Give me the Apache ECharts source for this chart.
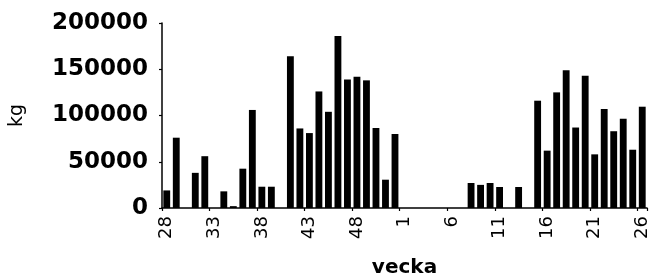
<!DOCTYPE html>
<html>
<head>
<meta charset="utf-8">
<script src="https://cdn.jsdelivr.net/npm/echarts@6/dist/echarts.min.js"></script>
<style>
    html, body { margin: 0; padding: 0; background: #fff; }
    #chart { width: 652px; height: 278px; }
</style>
</head>
<body>
<div id="chart"></div>
<script>
    // veckor 28-52, sedan 1-26
    const weeks = [];
    for (let w = 28; w <= 52; w++) weeks.push(String(w));
    for (let w = 1; w <= 26; w++) weeks.push(String(w));

    const kg = [
        19000, 76000, 0, 38000, 56000, 0, 18000, 2000, 42500, 106000,
        23000, 23000, 0, 164000, 86000, 81000, 126000, 104000, 186000, 139000,
        142000, 138000, 86500, 30600, 80000,
        0, 0, 0, 0, 0, 0, 0, 27000, 25000, 27000,
        22700, 0, 22700, 0, 116000, 62000, 125000, 149000, 87000, 143000,
        58000, 107000, 83000, 96500, 63000, 109500
    ];
    const yTicks = [0, 50000, 100000, 150000, 200000];

    const myChart = echarts.init(document.getElementById('chart'));
    const option = {
        animation: false,
        backgroundColor: '#fff',
        grid: {
            left: 162,
            right: 5,
            top: 23,
            bottom: 70,
            containLabel: false,
            outerBoundsMode: 'none'
        },
        xAxis: {
            type: 'category',
            data: weeks,
            name: 'vecka',
            nameLocation: 'middle',
            nameMoveOverlap: false,
            nameGap: 50,
            nameTextStyle: {
                fontFamily: 'DejaVu Sans',
                fontWeight: 'bold',
                fontSize: 20,
                color: '#000'
            },
            axisLine: { lineStyle: { color: '#000', width: 1.5 } },
            axisTick: {
                show: true,
                length: 3,
                lineStyle: { color: '#000', width: 1.2 }
            },
            axisLabel: {
                interval: 4,
                rotate: 90,
                margin: 8,
                fontFamily: 'DejaVu Sans',
                fontSize: 18,
                color: '#000'
            }
        },
        yAxis: {
            type: 'value',
            min: yTicks[0],
            max: yTicks[yTicks.length - 1],
            interval: 50000,
            name: 'kg',
            nameLocation: 'middle',
            nameRotate: 90,
            nameMoveOverlap: false,
            nameGap: 135,
            nameTextStyle: {
                fontFamily: 'DejaVu Sans',
                fontSize: 19,
                color: '#000'
            },
            splitLine: { show: false },
            axisLine: { show: true, lineStyle: { color: '#000', width: 1.5 } },
            axisTick: {
                show: true,
                length: 3,
                lineStyle: { color: '#000', width: 1.2 }
            },
            axisLabel: {
                margin: 14,
                formatter: function (v) { return String(v); },
                fontFamily: 'DejaVu Sans',
                fontWeight: 'bold',
                fontSize: 23,
                color: '#000'
            }
        },
        series: [
            {
                type: 'bar',
                data: kg,
                barCategoryGap: '28%',
                itemStyle: { color: '#000' }
            }
        ]
    };
    myChart.setOption(option);
</script>
</body>
</html>
